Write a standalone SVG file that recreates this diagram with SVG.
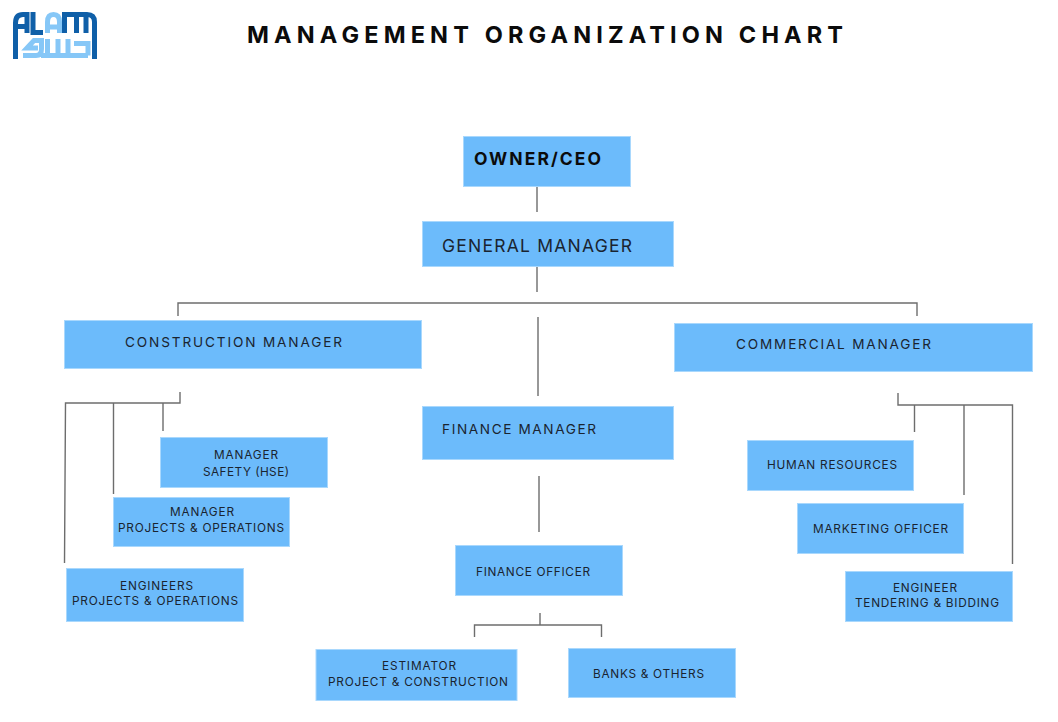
<svg xmlns="http://www.w3.org/2000/svg" width="1058" height="722" viewBox="0 0 1058 722">
<style>
.box{fill:#6cbbfb;stroke:#a9d8fd;stroke-width:1}
text{font-family:"Inter","Liberation Sans",sans-serif;fill:#1a2430;text-anchor:start}
.t{font-size:11.8px;font-weight:400}
.m{font-size:13.600px}
.l{font-size:17.500px}
.c{fill:none;stroke:#6d6d6d;stroke-width:1.4}
.d{fill:none;stroke:#0f5fa8;stroke-width:5}
.b{fill:none;stroke:#86c7f7;stroke-width:5}
</style>
<rect width="1058" height="722" fill="#fff"/>
<g id="logo">
<path class="d" d="M15.500 59V23Q15.500 14.500 23 14.500H27V33M15.500 26.500H27M33 12V32.500H43"/>
<path class="b" d="M47.500 33V22Q47.500 14.500 53.500 14.500Q59.500 14.500 59.500 22V33M47.500 27H59.500"/>
<path class="d" d="M64.500 33V14.500H87Q94.500 14.500 94.500 22V59M76.500 15V33M86 15V33"/>
<path class="b" d="M23 55.500H36Q41.500 55.500 41.500 49V40.500H34L27 48H38M47.500 39V55.500M58 39V55.500M41 55.500H88M68 39V55.500M74 43.500H88V55.500"/>
</g>
<text id="title" x="247" y="43" textLength="596" lengthAdjust="spacing" style="font-size:23.500px;font-weight:700;fill:#0b0b0b">MANAGEMENT ORGANIZATION CHART</text>
<g id="connectors">
<path class="c" d="M537 187V212M537 267V292"/>
<path class="c" d="M178 316V303H917V316"/>
<path class="c" d="M538 317V396M539 476V532"/>
<path class="c" d="M180 392V403H65.500L64.500 563M113.500 403V494M163 403V431"/>
<path class="c" d="M898 393V405H1012.500V564M914.500 405V432M964 405V495"/>
<path class="c" d="M540 613V625M474.500 637V625H601.500V637"/>
</g>
<g id="owner"><rect class="box" x="463.500" y="136.500" width="167" height="50"/><text x="474" y="165" textLength="127" lengthAdjust="spacing" style="font-size:17.500px;font-weight:700;fill:#0b0b0b">OWNER/CEO</text></g>
<g id="general-manager"><rect class="box" x="422.500" y="221.500" width="251" height="45"/><text class="l" x="442" y="252" textLength="190" lengthAdjust="spacing">GENERAL MANAGER</text></g>
<g id="construction-manager"><rect class="box" x="64.500" y="320.500" width="357" height="48"/><text class="m" x="125" y="347" textLength="217" lengthAdjust="spacing">CONSTRUCTION MANAGER</text></g>
<g id="commercial-manager"><rect class="box" x="674.500" y="323.500" width="358" height="48"/><text class="m" x="736" y="349" textLength="195" lengthAdjust="spacing">COMMERCIAL MANAGER</text></g>
<g id="finance-manager"><rect class="box" x="422.500" y="406.500" width="251" height="53"/><text class="m" x="442" y="434" textLength="154" lengthAdjust="spacing">FINANCE MANAGER</text></g>
<g id="manager-safety"><rect class="box" x="160.500" y="437.500" width="167" height="50"/><text class="t" x="214" y="458.500" textLength="64" lengthAdjust="spacing">MANAGER</text><text class="t" x="203" y="475.500" textLength="86" lengthAdjust="spacing">SAFETY (HSE)</text></g>
<g id="manager-projects"><rect class="box" x="113.500" y="497.500" width="176" height="49"/><text class="t" x="170" y="516" textLength="64" lengthAdjust="spacing">MANAGER</text><text class="t" x="118" y="531.500" textLength="166" lengthAdjust="spacing">PROJECTS &amp; OPERATIONS</text></g>
<g id="engineers-projects"><rect class="box" x="66.500" y="568.500" width="177" height="53"/><text class="t" x="120" y="590" textLength="73" lengthAdjust="spacing">ENGINEERS</text><text class="t" x="72" y="605" textLength="166" lengthAdjust="spacing">PROJECTS &amp; OPERATIONS</text></g>
<g id="human-resources"><rect class="box" x="747.500" y="440.500" width="166" height="50"/><text class="t" x="767" y="469" textLength="130" lengthAdjust="spacing">HUMAN RESOURCES</text></g>
<g id="marketing-officer"><rect class="box" x="797.500" y="503.500" width="166" height="50"/><text class="t" x="813" y="533" textLength="135" lengthAdjust="spacing">MARKETING OFFICER</text></g>
<g id="engineer-tendering"><rect class="box" x="845.500" y="571.500" width="167" height="50"/><text class="t" x="893" y="592" textLength="64" lengthAdjust="spacing">ENGINEER</text><text class="t" x="855" y="607" textLength="144" lengthAdjust="spacing">TENDERING &amp; BIDDING</text></g>
<g id="finance-officer"><rect class="box" x="455.500" y="545.500" width="167" height="50"/><text class="t" x="476" y="576" textLength="114" lengthAdjust="spacing">FINANCE OFFICER</text></g>
<g id="estimator"><rect class="box" x="316" y="649.500" width="201" height="51"/><text class="t" x="382" y="670" textLength="74" lengthAdjust="spacing">ESTIMATOR</text><text class="t" x="328" y="686" textLength="180" lengthAdjust="spacing">PROJECT &amp; CONSTRUCTION</text></g>
<g id="banks"><rect class="box" x="568.500" y="648.500" width="167" height="49"/><text class="t" x="593" y="678" textLength="111" lengthAdjust="spacing">BANKS &amp; OTHERS</text></g>
</svg>
